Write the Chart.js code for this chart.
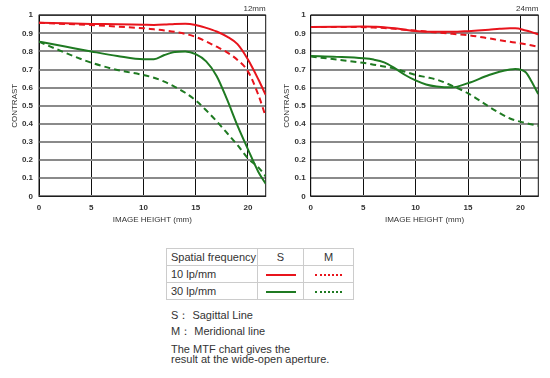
<!DOCTYPE html>
<html>
<head>
<meta charset="utf-8">
<script src="https://cdn.jsdelivr.net/npm/chart.js@4.4.1/dist/chart.umd.min.js"></script>
<style>
  body { margin: 0; background: #fff; width: 550px; height: 378px; position: relative; overflow: hidden;
         font-family: Arial, "Liberation Sans", sans-serif; }
  canvas { position: absolute; top: 0; }
  #mtf12 { left: 0; }
  #mtf24 { left: 275px; }
  table { position: absolute; left: 166px; top: 248px; border-collapse: collapse; font-size: 11px; color: #333; }
  td { border: 1px solid #ccc; height: 16px; padding: 0 0 0 4px; white-space: nowrap; }
  td.c { text-align: center; padding: 0; }
  .smp { display: inline-block; width: 30px; vertical-align: middle; }
  .notes { position: absolute; left: 171px; font-size: 11px; color: #333; line-height: 10px; }
</style>
</head>
<body>
<canvas id="mtf12" width="275" height="232"></canvas>
<canvas id="mtf24" width="275" height="232"></canvas>

<table>
  <tr><td style="width:86px">Spatial frequency</td><td class="c" style="width:45px">S</td><td class="c" style="width:49px">M</td></tr>
  <tr><td>10 lp/mm</td><td class="c"><span class="smp" style="border-top:2px solid #e8141c"></span></td><td class="c"><span class="smp" style="width:27px;border-top:2px dotted #e8141c"></span></td></tr>
  <tr><td>30 lp/mm</td><td class="c"><span class="smp" style="border-top:2px solid #1f7a22"></span></td><td class="c"><span class="smp" style="width:27px;border-top:2px dotted #1f7a22"></span></td></tr>
</table>
<div class="notes" style="top:310px">S： Sagittal Line</div>
<div class="notes" style="top:326px">M： Meridional line</div>
<div class="notes" style="top:344px">The MTF chart gives the<br>result at the wide-open aperture.</div>

<script>
// image height positions (mm)
const xMax = 21.7;
const xs12 = [0, 2.5, 5, 7.5, 10, 11, 12, 13, 14, 15, 16, 17, 18, 19, 20, 21, 21.7];
const xs24 = [0, 2.5, 5, 6, 7, 8, 9, 10, 11, 12, 13.5, 15, 17, 18, 19, 19.5, 20.5, 21, 21.7];

// 12mm
const s10_12 = [0.958, 0.955, 0.952, 0.95, 0.947, 0.946, 0.948, 0.952, 0.953, 0.946, 0.93, 0.91, 0.882, 0.84, 0.755, 0.645, 0.56];
const m10_12 = [0.958, 0.952, 0.946, 0.937, 0.928, 0.922, 0.916, 0.908, 0.897, 0.88, 0.855, 0.826, 0.795, 0.753, 0.69, 0.56, 0.44];
const s30_12 = [0.854, 0.827, 0.80, 0.775, 0.757, 0.757, 0.78, 0.797, 0.80, 0.785, 0.745, 0.665, 0.535, 0.39, 0.26, 0.135, 0.07];
const m30_12 = [0.854, 0.793, 0.738, 0.698, 0.67, 0.655, 0.633, 0.605, 0.572, 0.53, 0.475, 0.415, 0.35, 0.283, 0.21, 0.16, 0.11];

// 24mm
const s10_24 = [0.935, 0.936, 0.937, 0.936, 0.934, 0.928, 0.92, 0.913, 0.909, 0.908, 0.908, 0.912, 0.92, 0.925, 0.928, 0.928, 0.916, 0.908, 0.895];
const m10_24 = [0.935, 0.935, 0.934, 0.932, 0.929, 0.925, 0.92, 0.915, 0.91, 0.905, 0.897, 0.89, 0.872, 0.862, 0.853, 0.849, 0.84, 0.834, 0.826];
const s30_24 = [0.775, 0.77, 0.762, 0.755, 0.74, 0.708, 0.67, 0.64, 0.618, 0.607, 0.602, 0.625, 0.67, 0.688, 0.70, 0.703, 0.685, 0.64, 0.565];
const m30_24 = [0.772, 0.755, 0.737, 0.727, 0.717, 0.705, 0.688, 0.67, 0.658, 0.645, 0.61, 0.569, 0.495, 0.46, 0.43, 0.42, 0.405, 0.398, 0.39];

const RED = "#e8141c";
const GREEN = "#1f7a22";
const FONT = 'Arial, "Liberation Sans", sans-serif';

// box around the plot + focal length in the corner
const frame = {
  id: "frame",
  beforeDatasetsDraw(chart, args, opts) {
    const { ctx, chartArea: a } = chart;
    ctx.save();
    ctx.strokeStyle = "#111";
    ctx.lineWidth = 1;
    ctx.strokeRect(a.left, a.top, a.right - a.left, a.bottom - a.top);
    ctx.fillStyle = "#333";
    ctx.font = "8px " + FONT;
    ctx.textAlign = "right";
    ctx.textBaseline = "middle";
    ctx.fillText(opts.text, a.right, a.top - 6);
    ctx.restore();
  },
};

function pts(xs, ys) {
  return xs.map((x, i) => ({ x, y: ys[i] }));
}

function line(xs, ys, color, dashed) {
  return {
    data: pts(xs, ys),
    borderColor: color,
    borderWidth: 2,
    borderDash: dashed ? [6, 4] : [],
    pointRadius: 0,
    cubicInterpolationMode: "monotone",
  };
}

function makeChart(id, label, xs, s10, m10, s30, m30, g) {
  new Chart(document.getElementById(id), {
    type: "line",
    data: {
      datasets: [
        line(xs, m30, GREEN, true),
        line(xs, s30, GREEN, false),
        line(xs, m10, RED, true),
        line(xs, s10, RED, false),
      ],
    },
    plugins: [frame],
    options: {
      responsive: false,
      animation: false,
      layout: { padding: { left: 0, right: g.padR, top: 15.2, bottom: 0 } },
      plugins: {
        legend: { display: false },
        tooltip: { enabled: false },
        frame: { text: label },
      },
      scales: {
        x: {
          type: "linear",
          min: 0,
          max: xMax,
          afterFit: (s) => { s.height = 35.6; },
          border: { display: false },
          grid: { color: "#111", lineWidth: 1, drawTicks: false },
          ticks: { stepSize: 5, includeBounds: false, padding: 7, color: "#333", font: { size: 8, weight: "bold", family: FONT } },
          title: { display: true, text: "IMAGE HEIGHT (mm)", color: "#333", font: { size: 8, family: FONT }, padding: { top: 0, bottom: 7.2 } },
        },
        y: {
          min: 0,
          max: 1,
          afterFit: (s) => { s.width = g.yW; },
          border: { display: false },
          grid: { color: "#8a8a8a", lineWidth: 2, drawTicks: false },
          ticks: { stepSize: 0.1, padding: g.tickPad, color: "#333", font: { size: 8, weight: "bold", family: FONT },
                   callback: (v) => String(+v.toFixed(1)) },
          title: { display: true, text: "CONTRAST", color: "#333", font: { size: 8, family: FONT }, padding: { top: g.titlePad, bottom: 0 } },
        },
      },
    },
  });
}

makeChart("mtf12", "12mm", xs12, s10_12, m10_12, s30_12, m30_12, { yW: 39, padR: 9.3, tickPad: 6, titlePad: 10.2 });
makeChart("mtf24", "24mm", xs24, s10_24, m10_24, s30_24, m30_24, { yW: 35.7, padR: 11.7, tickPad: 5, titlePad: 7.2 });
</script>
</body>
</html>
